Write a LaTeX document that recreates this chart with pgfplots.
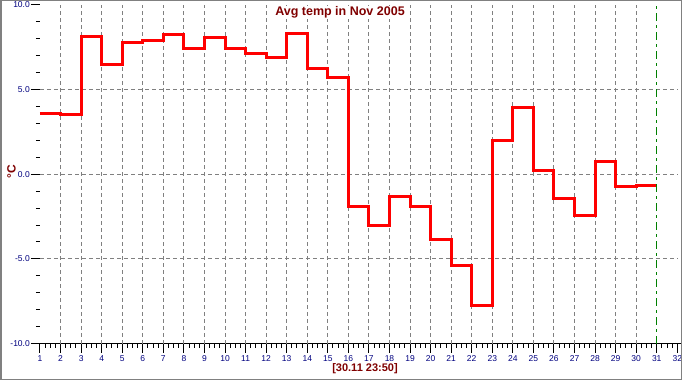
\documentclass[border=0pt]{standalone}
\usepackage{fontspec}
\setmainfont{Liberation Sans}
\usepackage{pgfplots}
\pgfplotsset{compat=1.18}
\definecolor{maroon}{HTML}{800000}
\definecolor{navy}{HTML}{000080}
\definecolor{gridgray}{HTML}{808080}
\definecolor{dgreen}{HTML}{008000}
\begin{document}
\begin{tikzpicture}[x=1pt,y=1pt]
\useasboundingbox (0,0) rectangle (682,380);
\fill[white] (0,0) rectangle (682,380);
\begin{axis}[at={(40pt,36.3pt)}, anchor=south west, scale only axis,
  width=637.3pt, height=339pt,
  xmin=1, xmax=32, ymin=-10, ymax=10,
  axis x line=bottom, axis y line=left,
  x axis line style={-, line width=1pt, shorten >=-5pt},
  y axis line style={draw=none},
  xtick={1,...,32}, ytick={-10,-5,0,5,10},
  minor x tick num=3, minor y tick num=4,
  tick align=outside, major tick length=9pt, minor tick length=4pt,
  tick style={black, line width=1pt},
  /pgf/number format/assume math mode=true,
  ticklabel style={font=\fontsize{8.5}{10}\selectfont, text=navy},
  yticklabel={\pgfmathprintnumber[fixed,fixed zerofill,precision=1]{\tick}},
  xticklabel style={inner sep=1pt, yshift=-2pt},
  yticklabel style={inner sep=1pt},
  clip=false,
]
\pgfplotsinvokeforeach{2,...,30}{
  \draw[gridgray, line width=1pt, dash pattern=on 4pt off 3pt] (axis cs:#1,-10) -- (axis cs:#1,10);
}
\pgfplotsinvokeforeach{-5,0,5}{
  \draw[gridgray, line width=1pt, dash pattern=on 4pt off 3pt] (axis cs:1,#1) -- (axis cs:32,#1);
}
\addplot[const plot, color=red, line width=3pt, no marks] coordinates {
(1,3.57) (2,3.51) (3,8.10) (4,6.47) (5,7.77) (6,7.89) (7,8.24) (8,7.41)
(9,8.06) (10,7.41) (11,7.12) (12,6.88) (13,8.30) (14,6.21) (15,5.70)
(16,-1.92) (17,-3.04) (18,-1.33) (19,-1.92) (20,-3.87) (21,-5.40) (22,-7.77)
(23,1.96) (24,3.93) (25,0.21) (26,-1.45) (27,-2.45) (28,0.74) (29,-0.74)
(30,-0.64) (31,-0.64)
};
\draw[dgreen, line width=1pt, dash pattern=on 8pt off 4pt on 3pt off 4pt] (axis cs:31,-10) -- (axis cs:31,10);
\end{axis}
\node[fill=white, inner sep=1pt, text=maroon, font=\bfseries\fontsize{12.5}{14}\selectfont] at (340,367.5) {Avg temp in Nov 2005};
\node[text=maroon, font=\bfseries\fontsize{11}{13}\selectfont] at (365,11) {[30.11 23:50]};
\node[text=maroon, rotate=90, font=\bfseries\fontsize{12}{14}\selectfont] at (11.5,208) {°C};
\draw[gridgray, line width=1.5pt] (0.75,0.75) rectangle (681.25,379.25);
\end{tikzpicture}
\end{document}
